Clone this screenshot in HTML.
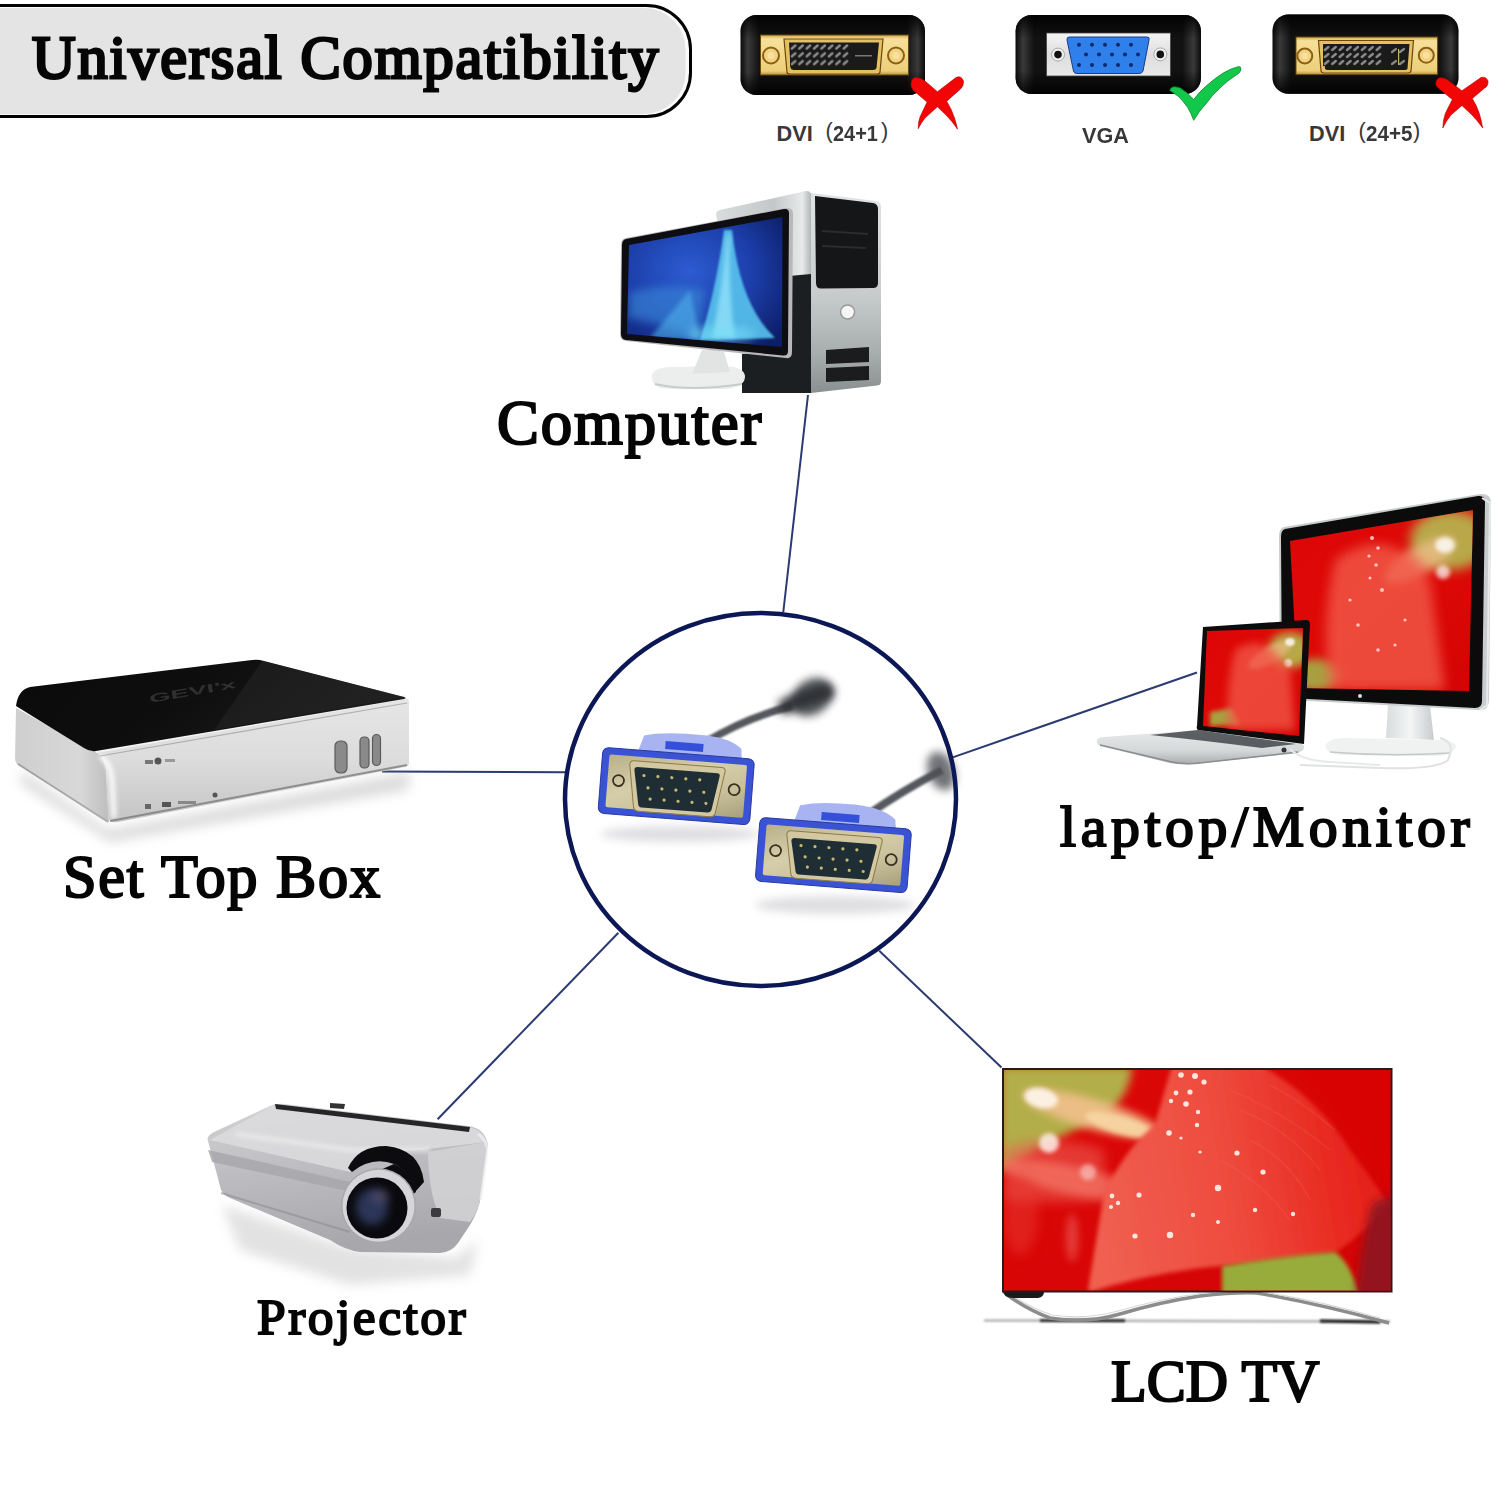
<!DOCTYPE html>
<html><head><meta charset="utf-8">
<style>
html,body{margin:0;padding:0;background:#fff}
body{width:1500px;height:1500px;position:relative;overflow:hidden}
svg{position:absolute;left:0;top:0}
.t{position:absolute;white-space:nowrap;line-height:1;font-family:"Liberation Serif",serif;font-weight:normal;color:#050505;transform-origin:0 0}
.s{position:absolute;white-space:nowrap;line-height:1;font-family:"Liberation Sans",sans-serif;font-weight:bold;color:#383838;font-size:21.7px;transform-origin:0 0}
.s i{font-style:normal;font-weight:normal}
</style></head><body>
<svg width="1500" height="1500" viewBox="0 0 1500 1500">
<defs>
  <linearGradient id="boxH" x1="0" x2="1" y1="0" y2="0">
    <stop offset="0" stop-color="#0a0a0a"/><stop offset="0.04" stop-color="#3a3a3a"/><stop offset="0.10" stop-color="#121212"/>
    <stop offset="0.90" stop-color="#121212"/><stop offset="0.96" stop-color="#3a3a3a"/><stop offset="1" stop-color="#0a0a0a"/>
  </linearGradient>
  <linearGradient id="boxV" x1="0" x2="0" y1="0" y2="1">
    <stop offset="0" stop-color="#000" stop-opacity="0.9"/><stop offset="0.3" stop-color="#000" stop-opacity="0"/>
    <stop offset="0.7" stop-color="#000" stop-opacity="0"/><stop offset="1" stop-color="#000" stop-opacity="0.9"/>
  </linearGradient>
  <linearGradient id="gold" x1="0" x2="0" y1="0" y2="1">
    <stop offset="0" stop-color="#d0a848"/><stop offset="0.1" stop-color="#f6e09a"/><stop offset="0.5" stop-color="#f2d888"/>
    <stop offset="0.9" stop-color="#eccf7a"/><stop offset="1" stop-color="#b89038"/>
  </linearGradient>
  <linearGradient id="silverPlate" x1="0" x2="0" y1="0" y2="1">
    <stop offset="0" stop-color="#f4f4f4"/><stop offset="0.5" stop-color="#dedede"/><stop offset="1" stop-color="#e8e8e8"/>
  </linearGradient>
  <linearGradient id="sideSilver" x1="0" x2="1" y1="0" y2="0">
    <stop offset="0" stop-color="#d8dcdc"/><stop offset="0.6" stop-color="#c4c8c8"/><stop offset="0.9" stop-color="#e8eaea"/><stop offset="1" stop-color="#aab0b0"/>
  </linearGradient>
  <linearGradient id="frontSilver" x1="0" x2="0" y1="0" y2="1">
    <stop offset="0" stop-color="#e0e4e4"/><stop offset="0.5" stop-color="#c8cccc"/><stop offset="0.8" stop-color="#a8aeae"/><stop offset="1" stop-color="#8a9090"/>
  </linearGradient>
  <radialGradient id="screenBlue" cx="0.4" cy="0.42" r="0.75">
    <stop offset="0" stop-color="#2c5cd0"/><stop offset="0.55" stop-color="#1c3eaa"/><stop offset="1" stop-color="#0c1e66"/>
  </radialGradient>
  <clipPath id="scrClip"><path d="M629,245 L782.5,217 L782,347 L627,334 Z"/></clipPath>
  <filter id="blur1" filterUnits="userSpaceOnUse" x="0" y="0" width="1500" height="1500"><feGaussianBlur stdDeviation="1"/></filter>
  <filter id="blur2" filterUnits="userSpaceOnUse" x="0" y="0" width="1500" height="1500"><feGaussianBlur stdDeviation="2"/></filter>
  <filter id="blur3" filterUnits="userSpaceOnUse" x="0" y="0" width="1500" height="1500"><feGaussianBlur stdDeviation="4"/></filter>
  <filter id="blur6" filterUnits="userSpaceOnUse" x="0" y="0" width="1500" height="1500"><feGaussianBlur stdDeviation="6"/></filter>
  <linearGradient id="stbLeft" x1="0" x2="1" y1="0" y2="0">
    <stop offset="0" stop-color="#cfcfcf"/><stop offset="0.7" stop-color="#d8d8d8"/><stop offset="1" stop-color="#bdbdbd"/>
  </linearGradient>
  <linearGradient id="stbFront" x1="0" x2="0" y1="0" y2="1">
    <stop offset="0" stop-color="#e6e6e6"/><stop offset="0.5" stop-color="#dcdcdc"/><stop offset="1" stop-color="#c4c4c4"/>
  </linearGradient>
  <linearGradient id="stbTop" x1="0" x2="1" y1="0" y2="0.3">
    <stop offset="0" stop-color="#0a0a0a"/><stop offset="0.5" stop-color="#0e0e0e"/><stop offset="1" stop-color="#1c1c1c"/>
  </linearGradient>
  <linearGradient id="standGrad" x1="0" x2="1" y1="0" y2="0">
    <stop offset="0" stop-color="#d8dcdc"/><stop offset="0.5" stop-color="#f4f6f6"/><stop offset="1" stop-color="#c8cccc"/>
  </linearGradient>
  <linearGradient id="redScreen1" x1="0" x2="1" y1="0" y2="1">
    <stop offset="0" stop-color="#dc0606"/><stop offset="0.5" stop-color="#de0a08"/><stop offset="1" stop-color="#d40404"/>
  </linearGradient>
  <linearGradient id="redScreen2" x1="0" x2="1" y1="0" y2="1">
    <stop offset="0" stop-color="#dc0606"/><stop offset="0.5" stop-color="#de0a08"/><stop offset="1" stop-color="#d40404"/>
  </linearGradient>
  <linearGradient id="lapBase" x1="0" x2="0" y1="0" y2="1">
    <stop offset="0" stop-color="#e8eaea"/><stop offset="0.6" stop-color="#d4d8d8"/><stop offset="1" stop-color="#a8acac"/>
  </linearGradient>
  <clipPath id="monClip"><path d="M1290,541 L1473,510 L1469,691 L1298,688 Z"/></clipPath>
  <clipPath id="lapClip"><path d="M1207,631 L1303,628 L1299,736 L1203,726 Z"/></clipPath>
  <linearGradient id="tvRed" x1="0" x2="1" y1="0" y2="1">
    <stop offset="0" stop-color="#dc0808"/><stop offset="0.6" stop-color="#d80606"/><stop offset="1" stop-color="#d00404"/>
  </linearGradient>
  <linearGradient id="petalGrad" x1="1090" y1="1200" x2="1390" y2="1150" gradientUnits="userSpaceOnUse">
    <stop offset="0" stop-color="#f06050"/><stop offset="0.45" stop-color="#ee4c3e"/><stop offset="0.8" stop-color="#e82a22"/><stop offset="1" stop-color="#e41c18"/>
  </linearGradient>
  <clipPath id="tvClip"><rect x="1004" y="1070" width="386.5" height="220.5"/></clipPath>
  <linearGradient id="projBody" x1="0" x2="0.2" y1="0" y2="1">
    <stop offset="0" stop-color="#d4d4d6"/><stop offset="0.5" stop-color="#bcbcc0"/><stop offset="1" stop-color="#a8a8ac"/>
  </linearGradient>
  <linearGradient id="vgaGold" x1="0" x2="1" y1="0" y2="1">
    <stop offset="0" stop-color="#b8b08a"/><stop offset="0.4" stop-color="#d6ceaa"/><stop offset="0.7" stop-color="#c8c09a"/><stop offset="1" stop-color="#a8a07a"/>
  </linearGradient>
  <pattern id="dviPins" x="790" y="43" width="7.4" height="7.8" patternUnits="userSpaceOnUse">
    <rect width="7.4" height="7.8" fill="#1a1a1a"/>
    <path d="M1.8,5.6 L5.4,2.4" stroke="#8c8c8c" stroke-width="2.4" stroke-linecap="round"/>
  </pattern>
  <pattern id="dviPins2" x="1323" y="45" width="7.4" height="7" patternUnits="userSpaceOnUse">
    <rect width="7.4" height="7" fill="#1a1a1a"/>
    <path d="M1.8,5 L5.4,2" stroke="#8c8c8c" stroke-width="2.3" stroke-linecap="round"/>
  </pattern>
</defs>

<!-- header pill -->
<rect x="-60" y="5.5" width="750.5" height="111" rx="44" ry="44" fill="#fafafa" stroke="#000" stroke-width="3"/>
<rect x="-60" y="8" width="745.5" height="106" rx="41.5" ry="41.5" fill="#e4e4e4"/>

<!-- DVI 24+1 -->
<g id="dvi1">
  <rect x="740.5" y="15" width="184.5" height="80" rx="16" fill="url(#boxH)"/>
  <rect x="740.5" y="15" width="184.5" height="80" rx="16" fill="url(#boxV)"/>
  <rect x="760.5" y="35" width="148" height="40" fill="url(#gold)" stroke="#6a4a10" stroke-width="1"/>
  <circle cx="771" cy="55.5" r="8" fill="#f2d480" stroke="#8a6018" stroke-width="2"/>
  <circle cx="771" cy="55.5" r="3.5" fill="#fae0a0"/>
  <circle cx="896" cy="55.5" r="8" fill="#f2d480" stroke="#8a6018" stroke-width="2"/>
  <circle cx="896" cy="55.5" r="3.5" fill="#fae0a0"/>
  <path d="M784,39 L883,39 L880,72 Q880,74 877,74 L790,74 Q787,74 787,72 Z" fill="#e4c060" stroke="#6a4810" stroke-width="1.2"/>
  <path d="M789,42.5 L879,42.5 L876.5,68 Q876,70 873,70 L794,70 Q791,70 790.5,68 Z" fill="#1a1a1a"/>
  <rect x="790" y="43" width="59.2" height="23.4" fill="url(#dviPins)"/>
  <rect x="855" y="55" width="17" height="1.5" fill="#777"/>
</g>

<!-- VGA -->
<g id="vga">
  <rect x="1015.5" y="15" width="185.5" height="79" rx="16" fill="url(#boxH)"/>
  <rect x="1015.5" y="15" width="185.5" height="79" rx="16" fill="url(#boxV)"/>
  <rect x="1046.5" y="33" width="124" height="43" fill="url(#silverPlate)" stroke="#444" stroke-width="0.8"/>
  <path d="M1069.5,37 L1147,37 Q1150,37 1149,40 L1143,71 Q1142,73.5 1139,73.5 L1077,73.5 Q1074,73.5 1073.5,71 L1067,40 Q1066.5,37 1069.5,37 Z" fill="#2f80ea" stroke="#1a3c80" stroke-width="1"/>
  <g fill="#0c2a70">
    <circle cx="1079" cy="44.7" r="2"/><circle cx="1092" cy="44.7" r="2"/><circle cx="1105" cy="44.7" r="2"/><circle cx="1118" cy="44.7" r="2"/><circle cx="1131" cy="44.7" r="2"/>
    <circle cx="1086" cy="54.6" r="2"/><circle cx="1099" cy="54.6" r="2"/><circle cx="1112" cy="54.6" r="2"/><circle cx="1125" cy="54.6" r="2"/><circle cx="1138" cy="54.6" r="2"/>
    <circle cx="1079" cy="65" r="2"/><circle cx="1092" cy="65" r="2"/><circle cx="1105" cy="65" r="2"/><circle cx="1118" cy="65" r="2"/><circle cx="1131" cy="65" r="2"/>
  </g>
  <circle cx="1058" cy="54.6" r="6.5" fill="#f0f0f0" stroke="#999" stroke-width="0.8"/>
  <circle cx="1058" cy="54.6" r="3.8" fill="#111"/>
  <circle cx="1160.3" cy="54.4" r="6.5" fill="#f0f0f0" stroke="#999" stroke-width="0.8"/>
  <circle cx="1160.3" cy="54.4" r="3.8" fill="#111"/>
</g>

<!-- DVI 24+5 -->
<g id="dvi2">
  <rect x="1272.5" y="14.5" width="186" height="79.3" rx="16" fill="url(#boxH)"/>
  <rect x="1272.5" y="14.5" width="186" height="79.3" rx="16" fill="url(#boxV)"/>
  <rect x="1296" y="37" width="141.6" height="37.6" fill="url(#gold)" stroke="#6a4a10" stroke-width="1"/>
  <circle cx="1304.8" cy="56" r="7.5" fill="#f2d480" stroke="#8a6018" stroke-width="2"/>
  <circle cx="1304.8" cy="56" r="3.2" fill="#fae0a0"/>
  <circle cx="1426.3" cy="55.3" r="7.5" fill="#f2d480" stroke="#8a6018" stroke-width="2"/>
  <circle cx="1426.3" cy="55.3" r="3.2" fill="#fae0a0"/>
  <path d="M1318.5,40.5 L1413.5,40.5 L1411,71 Q1410.5,73 1408,73 L1324,73 Q1321.5,73 1321,71 Z" fill="#e4c060" stroke="#6a4810" stroke-width="1.2"/>
  <path d="M1323,44 L1409.5,44 L1407.5,68.5 Q1407,70 1404.5,70 L1328,70 Q1325.5,70 1325,68.5 Z" fill="#1a1a1a"/>
  <rect x="1323" y="45" width="59.2" height="21" fill="url(#dviPins2)"/>
  <g stroke="#8a8a8a" stroke-width="2.2" stroke-linecap="round">
    <path d="M1392,52 l4,-3 M1400,52 l4,-3 M1392,64 l4,-3 M1400,64 l4,-3"/>
  </g>
  <rect x="1398" y="49" width="1.2" height="16" fill="#c8b070"/>
</g>

<!-- red X 1 -->
<path fill="#f20505" stroke="#b00000" stroke-width="0.6" d="M911.2,82.5 Q912,77 917,77.6 Q921,78 925,81 L937.4,91.8 L956,77.5 Q961,75 963.5,81 Q964,86 960,89.5 L946.7,101.2 Q952,110 954.5,118 Q956.5,124 957.5,129.2 Q952,121 946,115 L937.4,106.8 L925,118 Q921,123 918.2,128.7 Q918,122 920,117 L927.1,102.1 L914,90.9 Q910,87 911.2,82.5 Z"/>
<!-- red X 2 -->
<path fill="#f20505" stroke="#b00000" stroke-width="0.6" d="M1435.9,83 Q1436.5,78 1440,77.8 Q1444,77.5 1447,79.5 L1461.9,90.8 L1481,77.5 Q1486,76 1488,81 Q1488.5,86 1484.4,88.2 L1472.3,98.6 Q1477,106 1479.5,114 Q1481.5,121 1482.7,128 Q1477,120 1472,115 L1461.9,105.5 L1451,115 Q1446,121 1442.8,128 Q1443,120 1445.4,113.3 L1452.3,99.5 L1438.5,88.2 Q1435.5,86 1435.9,83 Z"/>
<!-- green check -->
<path fill="#12c84a" stroke="#0a8a2c" stroke-width="0.8" d="M1169.8,90.4 Q1171,86.5 1175.5,86.9 Q1178,87 1180.7,88.2 Q1188,93 1193.7,99.5 Q1199,92 1206.7,85.6 Q1215,78 1224,72.6 Q1231,68.5 1238.7,66.5 Q1241.5,66.5 1240.9,70 Q1240,73 1236,75.2 Q1228,80 1219.7,88.2 Q1212,95 1206.7,102.9 Q1199,111 1193.7,120.3 Q1191,113 1187.6,107.3 Q1183,101 1178.9,96.8 Q1174,93 1169.8,90.4 Z"/>

<!-- connecting lines -->
<g stroke="#2c3a72" stroke-width="2" fill="none">
  <line x1="808" y1="395" x2="783.3" y2="612"/>
  <line x1="382" y1="771.5" x2="565" y2="772.3"/>
  <line x1="952" y1="757.6" x2="1197" y2="672.5"/>
  <line x1="618.4" y1="932.8" x2="437.6" y2="1119.2"/>
  <line x1="879.2" y1="950.8" x2="1001.5" y2="1067.5"/>
</g>

<!-- COMPUTER -->
<g id="computer">
  <!-- tower side (silver) -->
  <path d="M716,214 Q716,211 720,210 L806,191 Q810,190.5 811,194 L812,392 L742,392 L742,356 Z" fill="url(#sideSilver)"/>
  <!-- dark lower side -->
  <path d="M789,276 L811,274 L812,393 L742,393 L742,354 L789,354 Z" fill="#1c1f22"/>
  <!-- tower front -->
  <path d="M811,193 L876,201 Q881,202 881,207 L881,381 Q881,385 877,385.5 L811,393 Z" fill="url(#frontSilver)"/>
  <path d="M815,196 L873,203 Q878,204 878,209 L878,283 Q878,288 873,288 L821,288.5 Q816,288.5 816,283 Z" fill="#141618"/>
  <path d="M822,231 L868,234" stroke="#2a2c2e" stroke-width="2"/>
  <path d="M822,246 L866,248" stroke="#2a2c2e" stroke-width="2"/>
  <circle cx="847.6" cy="312" r="7" fill="#f6f6f6" stroke="#9a9a9a" stroke-width="1.5"/>
  <path d="M826,350 L869,347 L869,362 L826,364 Z" fill="#1a1c1e"/>
  <path d="M826,368 L869,366 L869,380 L826,382 Z" fill="#1a1c1e"/>
  <!-- stand -->
  <path d="M652,378 Q650,369 668,367 L725,366 Q745,367 745,377 Q744,388 725,389 L668,389 Q652,388 652,378 Z" fill="#eceeee"/>
  <path d="M655,384 Q690,392 742,384" stroke="#c8cccc" stroke-width="2" fill="none"/>
  <path d="M702,350 Q714,349 724,352 L730,372 L692,374 Z" fill="#e2e4e4"/>
  <!-- monitor bezel -->
  <path d="M626,238 L786,208 Q793,207 793,214 L792,352 Q792,359 786,358 L626,341 Q620,340 620,334 L621,245 Q621,239 626,238 Z" fill="#b8b8b8"/>
  <path d="M626,239 L784,209 Q789,208.5 789,213 L788,351 Q788,356 783,355.5 L626,340 Q621,339.5 621,334 L622,245 Q622,240 626,239 Z" fill="#0d0d12"/>
  <!-- screen -->
  <path d="M629,245 L782.5,217 L782,347 L627,334 Z" fill="url(#screenBlue)"/>
  <g clip-path="url(#scrClip)">
    <path d="M630,292 Q670,282 705,290 L700,338 Q660,322 628,318 Z" fill="#3c90dc" opacity="0.55" filter="url(#blur3)"/>
    <path d="M690,290 L650,338 L700,340 Z" fill="#50b0e8" opacity="0.6" filter="url(#blur2)"/>
    <path d="M724,230 Q716,290 700,340 L775,338 Q740,305 732,230 Z" fill="#58c4ee" opacity="0.9" filter="url(#blur1)"/>
    <path d="M727,235 Q722,290 712,338 L735,338 Q728,290 730,235 Z" fill="#a8f0ff" opacity="0.6" filter="url(#blur2)"/>
    <ellipse cx="722" cy="334" rx="34" ry="8" fill="#78e0f8" opacity="0.55" filter="url(#blur3)"/>
  </g>
</g>

<!-- SET TOP BOX -->
<g id="stb">
  <!-- shadow -->
  <path d="M20,770 L108,830 L410,772 L408,790 L110,842 L22,785 Z" fill="#9a9a9a" opacity="0.35" filter="url(#blur6)"/>
  <!-- left face -->
  <path d="M16,708 L96,752 Q104,757 106,770 L109,822 L18,765 Q15,763 15,758 Z" fill="url(#stbLeft)"/>
  <!-- front face -->
  <path d="M96,752 L406,698 Q409,698 409,702 L409,763 Q409,766 405,767 L118,822 Q108,824 108,814 L106,770 Q104,757 96,752 Z" fill="url(#stbFront)"/>
  <!-- corner highlight -->
  <path d="M100,756 Q110,762 112,780 L114,818" stroke="#ffffff" stroke-width="6" fill="none" opacity="0.8" filter="url(#blur2)"/>
  <!-- chrome top edge -->
  <path d="M96,751 L406,697" stroke="#f4f4f4" stroke-width="4" fill="none"/>
  <path d="M100,756 L407,703" stroke="#9a9a9a" stroke-width="1.2" fill="none" opacity="0.7"/>
  <!-- bottom dark edge -->
  <path d="M110,821 L407,765" stroke="#707070" stroke-width="2" fill="none" opacity="0.7"/>
  <path d="M18,764 L108,822" stroke="#808080" stroke-width="2" fill="none" opacity="0.6"/>
  <!-- black top -->
  <path d="M16,706 Q18,690 30,687 L252,660 Q258,659 264,661 L404,697 Q407,698 404,699 L96,751 Q90,752 84,748 Z" fill="url(#stbTop)"/>
  <path d="M262,661 L404,697 L214,730 Z" fill="#2a2a2a" opacity="0.45"/>
  <!-- logo on top -->
  <text x="0" y="0" font-family="Liberation Sans" font-weight="bold" font-size="24" fill="#3c3c3c" transform="translate(150 703) rotate(-10) scale(1.15 0.5)" opacity="0.75">GEVI'x</text>
  <!-- slots -->
  <rect x="335" y="741" width="12" height="32" rx="5" fill="#8a8a8a" stroke="#5a5a5a" stroke-width="1.2"/>
  <rect x="360" y="737" width="9" height="31" rx="4" fill="#8a8a8a" stroke="#5a5a5a" stroke-width="1.2"/>
  <rect x="372.5" y="734.5" width="8" height="31" rx="4" fill="#8a8a8a" stroke="#5a5a5a" stroke-width="1.2"/>
  <!-- small marks -->
  <circle cx="158" cy="761" r="3.5" fill="#555"/>
  <rect x="145" y="760" width="8" height="4" fill="#777"/>
  <rect x="165" y="759" width="10" height="3" fill="#999"/>
  <rect x="145" y="804" width="6" height="5" fill="#666"/>
  <rect x="162" y="802" width="9" height="5" fill="#555"/>
  <rect x="178" y="801" width="18" height="3" fill="#888"/>
  <circle cx="215" cy="795" r="2.5" fill="#555"/>
</g>

<!-- MONITOR + LAPTOP -->
<g id="monitor">
  <!-- stand -->
  <path d="M1388,704 L1430,706 L1434,740 L1386,738 Z" fill="url(#standGrad)"/>
  <path d="M1326,744 Q1330,738 1345,738 L1440,740 Q1456,741 1456,747 Q1454,754 1440,756 L1340,755 Q1324,753 1326,744 Z" fill="#f0f2f2"/>
  <path d="M1330,752 Q1390,757 1450,753" stroke="#c4c8c8" stroke-width="1.5" fill="none"/>
  <!-- cable -->
  <path d="M1440,738 Q1456,742 1448,760 Q1436,770 1380,768 L1300,765" stroke="#e0e2e2" stroke-width="2" fill="none"/>
  <!-- frame -->
  <path d="M1284,527 L1480,494 Q1491,493 1491,503 L1489,700 Q1489,711 1478,710 L1290,700 Q1280,699 1280,690 L1279,537 Q1279,528 1284,527 Z" fill="#c8cccc"/>
  <path d="M1285,529 L1478,496 Q1485,495 1485,502 L1482,701 Q1482,708 1475,708 L1290,698 Q1282,698 1282,690 L1281,537 Q1281,530 1285,529 Z" fill="#0b0b0b"/>
  <path d="M1290,541 L1473,510 L1469,691 L1298,688 Z" fill="url(#redScreen1)"/>
  <g clip-path="url(#monClip)">
    <ellipse cx="1450" cy="540" rx="40" ry="30" fill="#b8a848" filter="url(#blur6)"/>
    <ellipse cx="1420" cy="560" rx="40" ry="14" fill="#f0c090" opacity="0.7" transform="rotate(-30 1420 560)" filter="url(#blur3)"/>
    <ellipse cx="1445" cy="545" rx="10" ry="8" fill="#fff" opacity="0.8" filter="url(#blur2)"/>
    <ellipse cx="1443" cy="572" rx="7" ry="7" fill="#fff" opacity="0.7" filter="url(#blur2)"/>
    <ellipse cx="1315" cy="675" rx="25" ry="16" fill="#a8a040" filter="url(#blur3)"/>
    <path d="M1335,560 Q1390,520 1430,580 L1445,690 L1330,690 Q1320,620 1335,560 Z" fill="#f25a4a" opacity="0.8" filter="url(#blur6)"/>
    <g fill="#ffe6e0" opacity="0.8">
      <circle cx="1372" cy="538" r="2"/><circle cx="1378" cy="548" r="1.8"/><circle cx="1369" cy="556" r="1.6"/><circle cx="1376" cy="565" r="1.8"/>
      <circle cx="1370" cy="578" r="1.5"/><circle cx="1382" cy="590" r="2"/><circle cx="1350" cy="600" r="1.6"/><circle cx="1358" cy="625" r="1.8"/>
      <circle cx="1378" cy="650" r="1.8"/><circle cx="1395" cy="645" r="1.6"/><circle cx="1405" cy="620" r="1.5"/>
    </g>
  </g>
  <circle cx="1360" cy="696" r="2" fill="#ddd"/>
  <path d="M1482,498 L1490,503 L1487,705 L1480,710" stroke="#e8eaea" stroke-width="2" fill="none"/>
</g>
<g id="laptop">
  <!-- base -->
  <path d="M1097,740 Q1098,737 1104,737 L1198,730 L1302,744 Q1306,746 1303,750 L1298,753 Q1260,757 1192,764 Q1180,765 1170,763 L1100,746 Q1096,744 1097,740 Z" fill="url(#lapBase)"/>
  <path d="M1100,745 L1172,762 Q1186,765 1200,763 L1298,752" stroke="#8a8e8e" stroke-width="1.5" fill="none"/>
  <path d="M1150,735 L1198,730 L1296,744 L1262,748 Q1200,740 1150,735 Z" fill="#2e3238" opacity="0.75"/>
  <!-- screen -->
  <path d="M1203,627 L1306,620 Q1310,620 1310,624 L1304,744 L1198,730 Q1196,729 1197,726 Z" fill="#0c0c0c"/>
  <path d="M1207,631 L1303,628 L1299,736 L1203,726 Z" fill="url(#redScreen2)"/>
  <g clip-path="url(#lapClip)">
    <ellipse cx="1290" cy="650" rx="22" ry="18" fill="#b8a848" filter="url(#blur3)"/>
    <ellipse cx="1270" cy="655" rx="25" ry="8" fill="#f0c090" opacity="0.6" transform="rotate(-30 1270 655)" filter="url(#blur2)"/>
    <ellipse cx="1290" cy="642" rx="5" ry="4" fill="#fff" opacity="0.8" filter="url(#blur1)"/>
    <ellipse cx="1288" cy="663" rx="4" ry="4" fill="#fff" opacity="0.7" filter="url(#blur1)"/>
    <path d="M1210,712 L1232,708 L1240,724 L1210,726 Z" fill="#a8a040" filter="url(#blur2)"/>
    <path d="M1235,650 Q1265,630 1290,670 L1295,730 L1228,730 Q1225,690 1235,650 Z" fill="#f25a4a" opacity="0.75" filter="url(#blur3)"/>
  </g>
  <!-- cable -->
  <path d="M1290,749 Q1300,760 1330,762 L1380,765" stroke="#e8eaea" stroke-width="2" fill="none"/>
  <circle cx="1284" cy="750" r="2.5" fill="#333"/>
</g>

<!-- LCD TV -->
<g id="tv">
  <!-- floor shadow line -->
  <path d="M984,1320.5 L1390,1321.5" stroke="#b0b0b0" stroke-width="2.5" fill="none" filter="url(#blur1)"/>
  <path d="M1040,1320.5 L1125,1320.8" stroke="#1a1a1a" stroke-width="2.5" fill="none" filter="url(#blur1)"/>
  <path d="M1320,1321 L1380,1322" stroke="#1a1a1a" stroke-width="3" fill="none" filter="url(#blur1)"/>
  <!-- stand -->
  <path d="M1006,1294 Q1028,1310 1050,1318 Q1085,1324 1120,1314 Q1160,1302 1200,1296 Q1235,1292 1257,1293 Q1320,1304 1389,1323" stroke="#8c8c8c" stroke-width="3.5" fill="none"/>
  <path d="M1010,1294 Q1030,1308 1052,1315 Q1085,1320 1118,1311 Q1160,1299 1200,1293.5 Q1235,1290 1257,1291 Q1320,1301 1380,1318" stroke="#d8d8d8" stroke-width="1.2" fill="none"/>
  <path d="M1003,1292 L1044,1292 Q1044,1297 1038,1298 L1012,1298 Q1004,1297 1003,1292 Z" fill="#1a1a1a"/>
  <!-- frame -->
  <rect x="1002" y="1068" width="390.5" height="224.5" fill="#2a1a1a"/>
  <rect x="1004" y="1070" width="386.5" height="220.5" fill="url(#tvRed)"/>
  <g clip-path="url(#tvClip)">
    <!-- olive top-left -->
    <path d="M1000,1066 L1132,1066 Q1130,1100 1100,1118 Q1050,1140 1000,1172 Z" fill="#b2ae4a" filter="url(#blur3)"/>
    <path d="M1004,1150 Q1050,1130 1104,1150 L1104,1200 Q1050,1205 1004,1200 Z" fill="#ec5a50" opacity="0.6" filter="url(#blur6)"/>
    <!-- peach band -->
    <ellipse cx="1092" cy="1114" rx="72" ry="15" fill="#f2c08c" opacity="0.9" transform="rotate(16 1092 1114)" filter="url(#blur3)"/>
    <ellipse cx="1120" cy="1125" rx="36" ry="9" fill="#f8dca8" opacity="0.8" transform="rotate(16 1120 1125)" filter="url(#blur2)"/>
    <!-- pink band -->
    <ellipse cx="1072" cy="1180" rx="72" ry="14" fill="#f47a6a" opacity="0.7" transform="rotate(12 1072 1180)" filter="url(#blur3)"/>
    <ellipse cx="1020" cy="1215" rx="18" ry="40" fill="#e83a30" opacity="0.5" filter="url(#blur6)"/>
    <ellipse cx="1072" cy="1238" rx="6" ry="24" fill="#f07068" opacity="0.55" filter="url(#blur3)"/>
    <!-- bokeh -->
    <ellipse cx="1041" cy="1098" rx="17" ry="10" fill="#fff6ee" opacity="0.9" transform="rotate(12 1041 1098)" filter="url(#blur2)"/>
    <circle cx="1049" cy="1143" r="10" fill="#fff0ea" opacity="0.85" filter="url(#blur2)"/>
    <circle cx="1088" cy="1172" r="8" fill="#fbd6d0" opacity="0.6" filter="url(#blur2)"/>
    <!-- textured main petal -->
    <path d="M1088,1290 L1104,1193 Q1125,1150 1155,1124 L1172,1066 L1262,1066 Q1320,1100 1350,1150 Q1380,1190 1388,1204 Q1375,1225 1335,1253 Q1287,1259 1200,1268 Q1140,1276 1090,1292 Z" fill="url(#petalGrad)" filter="url(#blur2)"/>
    <path d="M1290,1066 L1396,1066 L1396,1200 Q1370,1170 1345,1130 Q1320,1095 1290,1066 Z" fill="#d80404" opacity="0.6" filter="url(#blur3)"/>
    <g stroke="#f46a5a" stroke-width="1.6" opacity="0.22" fill="none">
      <path d="M1230,1090 Q1280,1110 1330,1150"/><path d="M1240,1110 Q1290,1130 1320,1170"/><path d="M1250,1140 Q1290,1160 1310,1200"/>
      <path d="M1220,1160 Q1260,1180 1290,1220"/><path d="M1270,1085 Q1300,1100 1335,1130"/>
    </g>
    <!-- green bottom right -->
    <path d="M1222,1266 Q1280,1256 1335,1252 Q1350,1262 1360,1296 L1222,1296 Z" fill="#98ac3a" filter="url(#blur2)"/>
    <!-- dark maroon right -->
    <path d="M1372,1204 Q1392,1192 1396,1200 L1396,1296 L1356,1296 Q1362,1240 1372,1204 Z" fill="#8c1422" opacity="0.9" filter="url(#blur3)"/>
    <!-- water drops -->
    <g fill="#fff2ec" opacity="0.92">
      <circle cx="1181" cy="1075" r="2.8"/><circle cx="1195" cy="1076" r="3"/><circle cx="1204" cy="1082" r="2.6"/>
      <circle cx="1176" cy="1093" r="2.4"/><circle cx="1190" cy="1092" r="2.6"/><circle cx="1171" cy="1101" r="2.2"/>
      <circle cx="1186" cy="1104" r="2.8"/><circle cx="1198" cy="1112" r="2.2"/><circle cx="1197" cy="1125" r="2.2"/>
      <circle cx="1169" cy="1133" r="2.8"/><circle cx="1181" cy="1138" r="1.6"/><circle cx="1200" cy="1152" r="1.6"/>
      <circle cx="1237" cy="1153" r="2.6"/><circle cx="1263" cy="1172" r="2.6"/><circle cx="1218" cy="1188" r="3.2"/>
      <circle cx="1112" cy="1196" r="2.4"/><circle cx="1118" cy="1203" r="2.2"/><circle cx="1111" cy="1207" r="2"/><circle cx="1139" cy="1195" r="2.6"/>
      <circle cx="1135" cy="1236" r="2.6"/><circle cx="1170" cy="1235" r="3.2"/><circle cx="1193" cy="1215" r="2.2"/>
      <circle cx="1218" cy="1222" r="2"/><circle cx="1255" cy="1210" r="2.2"/><circle cx="1293" cy="1214" r="2.2"/>
    </g>
  </g>
</g>

<!-- PROJECTOR -->
<g id="projector">
  <!-- shadow -->
  <path d="M222,1205 L350,1248 L455,1258 L478,1240 L470,1275 L350,1285 L240,1250 Z" fill="#a0a0a0" opacity="0.3" filter="url(#blur6)"/>
  <!-- body -->
  <path d="M208,1141 Q206,1136 214,1132 L270,1106 Q276,1103 284,1104 L468,1126 Q485,1128 488,1145 L481,1196 Q479,1210 470,1225 L458,1243 Q452,1252 440,1253 L360,1252 Q345,1250 330,1240 L230,1198 Q221,1194 220,1186 Z" fill="url(#projBody)"/>
  <!-- top face lighter -->
  <path d="M210,1140 L272,1106 L468,1127 Q484,1130 486,1142 L420,1150 Q380,1150 350,1172 Z" fill="#dcdcde" opacity="0.85"/>
  <path d="M235,1134 L350,1150 L430,1150" stroke="#f2f2f2" stroke-width="4" fill="none" opacity="0.7" filter="url(#blur2)"/>
  <!-- groove stripe -->
  <path d="M208,1150 L350,1182 L352,1192 L212,1162 Z" fill="#a6a6aa" opacity="0.8"/>
  <path d="M221,1193 L350,1232" stroke="#8e8e92" stroke-width="2" fill="none" opacity="0.6"/>
  <!-- right side face -->
  <path d="M428,1152 L486,1142 L481,1196 Q478,1212 470,1222 L440,1218 Q428,1190 428,1152 Z" fill="#d2d2d4" opacity="0.9"/>
  <path d="M478,1134 Q488,1140 487,1152 L481,1200" stroke="#f4f4f4" stroke-width="3" fill="none" opacity="0.7"/>
  <!-- dark top strip -->
  <path d="M275,1104 L470,1127 L469,1132 L276,1109 Z" fill="#262628"/>
  <path d="M330,1103 L345,1104 L344,1109 L330,1108 Z" fill="#333"/>
  <!-- lens hood -->
  <path d="M348,1168 Q358,1146 386,1146 Q420,1149 424,1182 L415,1192 Q410,1172 394,1164 Q372,1156 352,1172 Z" fill="#0c0c0e"/>
  <path d="M394,1164 Q414,1174 416,1192 L404,1200 Q396,1180 380,1170 Z" fill="#0c0c0e"/>
  <!-- lens -->
  <circle cx="378.5" cy="1205.8" r="37.5" fill="#a8a8ac"/>
  <circle cx="378.5" cy="1205.8" r="36" fill="#d6d6da"/>
  <circle cx="377" cy="1208" r="30.5" fill="#0a0a0e"/>
  <ellipse cx="372" cy="1207" rx="16" ry="18" fill="#3a4878" opacity="0.7" filter="url(#blur3)"/>
  <ellipse cx="380" cy="1196" rx="9" ry="7" fill="#6a5a78" opacity="0.5" filter="url(#blur3)"/>
  <rect x="431" y="1208" width="10" height="9" rx="2" fill="#3a3a40"/>
</g>

<!-- VGA CABLES in circle -->
<g id="cables">
  <!-- cable 1 -->
  <path d="M706,742 Q745,718 792,706" stroke="#55595e" stroke-width="7.5" fill="none" filter="url(#blur1)"/>
  <path d="M786,706 Q805,698 826,692" stroke="#34363a" stroke-width="16" stroke-linecap="round" fill="none" filter="url(#blur3)"/>
  <ellipse cx="812" cy="697" rx="22" ry="17" fill="#2e3034" opacity="0.8" transform="rotate(-40 812 697)" filter="url(#blur3)"/>
  <!-- cable 2 -->
  <path d="M866,816 Q900,792 942,770" stroke="#55595e" stroke-width="8" fill="none" filter="url(#blur1)"/>
  <ellipse cx="941" cy="771" rx="13" ry="20" fill="#4e5054" opacity="0.8" transform="rotate(-20 941 771)" filter="url(#blur3)"/>
  <!-- shadows -->
  <ellipse cx="680" cy="834" rx="80" ry="8" fill="#b8b8c0" opacity="0.45" filter="url(#blur3)"/>
  <ellipse cx="835" cy="905" rx="80" ry="9" fill="#b8b8c0" opacity="0.45" filter="url(#blur3)"/>

  <!-- connector 1 -->
  <g transform="translate(0 4) rotate(4.5 675 785)">
    <path d="M640,734 Q660,728 700,729 Q728,730 738,740 L740,756 L634,754 Z" fill="#a8b4f2"/>
    <rect x="662" y="738" width="38" height="8" fill="#3450d8"/>
    <rect x="600" y="749" width="152" height="66" rx="6" fill="#3a52d4"/>
    <rect x="600" y="749" width="152" height="66" rx="6" fill="none" stroke="#2a3aa0" stroke-width="1"/>
    <rect x="607" y="755.5" width="138" height="53" rx="2" fill="url(#vgaGold)"/>
    <path d="M632,760 L720,760 Q724,760 723.5,764 L717,806 Q716,810 712,810 L640,810 Q636,810 635,806 L628,764 Q628,760 632,760 Z" fill="#d4c8a0" stroke="#8a7a48" stroke-width="1"/>
    <path d="M636,766 L716,766 Q719,766 718.5,769 L713,803 Q712,806 709,806 L643,806 Q640,806 639.5,803 L633,769 Q633,766 636,766 Z" fill="#1e2e34"/>
    <g fill="#c8b870">
      <circle cx="643" cy="774" r="1.6"/><circle cx="657" cy="774" r="1.6"/><circle cx="671" cy="774" r="1.6"/><circle cx="685" cy="774" r="1.6"/><circle cx="699" cy="774" r="1.6"/>
      <circle cx="648" cy="786" r="1.6"/><circle cx="662" cy="786" r="1.6"/><circle cx="676" cy="786" r="1.6"/><circle cx="690" cy="786" r="1.6"/><circle cx="704" cy="786" r="1.6"/>
      <circle cx="651" cy="797" r="1.6"/><circle cx="665" cy="797" r="1.6"/><circle cx="679" cy="797" r="1.6"/><circle cx="693" cy="797" r="1.6"/><circle cx="707" cy="797" r="1.6"/>
    </g>
    <circle cx="618" cy="781" r="5.5" fill="none" stroke="#3a3020" stroke-width="1.8"/>
    <circle cx="734" cy="781" r="5.5" fill="none" stroke="#3a3020" stroke-width="1.8"/>
  </g>

  <!-- connector 2 -->
  <g transform="translate(0 5) rotate(4.5 832 855)">
    <path d="M796,803 Q815,797 850,798 Q880,799 892,810 L894,825 L790,823 Z" fill="#a8b4f2"/>
    <rect x="818" y="808" width="38" height="8" fill="#3450d8"/>
    <rect x="757" y="818" width="152" height="64" rx="6" fill="#3a52d4"/>
    <rect x="757" y="818" width="152" height="64" rx="6" fill="none" stroke="#2a3aa0" stroke-width="1"/>
    <rect x="764" y="824.5" width="138" height="51" rx="2" fill="url(#vgaGold)"/>
    <path d="M789,829 L877,829 Q881,829 880.5,833 L874,872 Q873,876 869,876 L797,876 Q793,876 792,872 L785,833 Q785,829 789,829 Z" fill="#d4c8a0" stroke="#8a7a48" stroke-width="1"/>
    <path d="M793,836 L873,836 Q876,836 875.5,839 L870,869 Q869,872 866,872 L800,872 Q797,872 796.5,869 L790,839 Q790,836 793,836 Z" fill="#1e2e34"/>
    <g fill="#c8b870">
      <circle cx="800" cy="843" r="1.6"/><circle cx="814" cy="843" r="1.6"/><circle cx="828" cy="843" r="1.6"/><circle cx="842" cy="843" r="1.6"/><circle cx="856" cy="843" r="1.6"/>
      <circle cx="805" cy="854" r="1.6"/><circle cx="819" cy="854" r="1.6"/><circle cx="833" cy="854" r="1.6"/><circle cx="847" cy="854" r="1.6"/><circle cx="861" cy="854" r="1.6"/>
      <circle cx="808" cy="864" r="1.6"/><circle cx="822" cy="864" r="1.6"/><circle cx="836" cy="864" r="1.6"/><circle cx="850" cy="864" r="1.6"/><circle cx="864" cy="864" r="1.6"/>
    </g>
    <circle cx="775" cy="850" r="5.5" fill="none" stroke="#3a3020" stroke-width="1.8"/>
    <circle cx="891" cy="850" r="5.5" fill="none" stroke="#3a3020" stroke-width="1.8"/>
  </g>
</g>

<!-- big circle -->
<ellipse cx="760.5" cy="799.5" rx="195.5" ry="186.5" fill="none" stroke="#0c1856" stroke-width="4.5"/>

</svg>

<div class="t" style="left:32px;top:28px;font-size:60.3px;-webkit-text-stroke:2.9px #050505;letter-spacing:1.9px">Universal Compatibility</div>
<div class="t" style="left:497px;top:392px;font-size:62.8px;-webkit-text-stroke:2.23px #050505;letter-spacing:1.9px">Computer</div>
<div class="t" style="left:63px;top:847px;font-size:60.3px;-webkit-text-stroke:2.18px #050505;letter-spacing:1.75px">Set Top Box</div>
<div class="t" style="left:1060px;top:798px;font-size:57.8px;-webkit-text-stroke:2.12px #050505;letter-spacing:4.6px">laptop/Monitor</div>
<div class="t" style="left:257px;top:1291px;font-size:51.6px;-webkit-text-stroke:1.98px #050505;letter-spacing:2.45px">Projector</div>
<div class="t" style="left:1111px;top:1353.3px;font-size:58.5px;-webkit-text-stroke:2.14px #050505">LCD TV</div>
<div class="s" style="left:776.5px;top:122.7px">DVI</div>
<div class="s" style="left:825.5px;top:120px;font-weight:normal">(</div>
<div class="s" style="left:833.4px;top:122.7px;transform:scaleX(0.92)">24+1</div>
<div class="s" style="left:881px;top:120px;font-weight:normal">)</div>
<div class="s" style="left:1081.8px;top:123.5px;font-size:22.8px;transform:scaleX(0.95)">VGA</div>
<div class="s" style="left:1309px;top:122.7px">DVI</div>
<div class="s" style="left:1358.5px;top:120px;font-weight:normal">(</div>
<div class="s" style="left:1366px;top:122.7px;transform:scaleX(0.95)">24+5</div>
<div class="s" style="left:1413px;top:120px;font-weight:normal">)</div>
</body></html>
